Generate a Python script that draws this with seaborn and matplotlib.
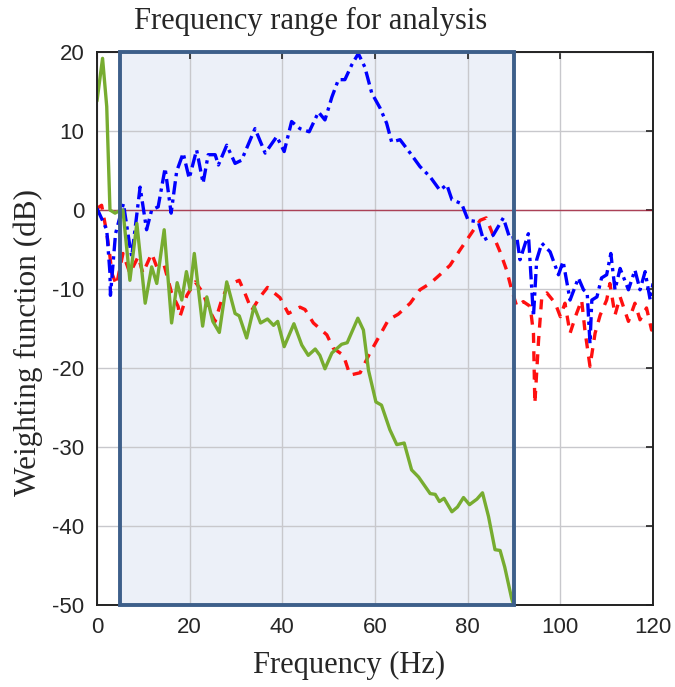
import matplotlib
matplotlib.use("Agg")
import matplotlib.pyplot as plt
import matplotlib.patches as mpatches
import pandas as pd
import seaborn as sb

# values (Hz, dB)
green_f = [0, 1.2, 2.1, 2.8, 3.9, 4.5, 5.6, 7.1, 8.6, 10.4, 11.8, 12.9, 14.5, 16.1, 17.3, 18.3,
           19.3, 20.1, 21.0, 22.8, 23.7, 25.0, 26.4, 28.0, 29.8, 30.7, 32.3, 33.9, 35.3, 36.8,
           38.1, 39.0, 40.4, 42.5, 44.2, 45.6, 47.1, 48.1, 49.2, 50.7, 52.8, 54.0, 56.3, 57.5,
           58.6, 60.2, 61.4, 63.2, 64.7, 66.3, 67.9, 69.4, 71.9, 73.0, 73.9, 74.9, 76.6, 77.8,
           79.1, 80.4, 82.0, 83.2, 84.5, 85.9, 87.0, 88.0, 89.5, 90.5]
green_db = [13.8, 19.2, 13.1, 0.0, -0.4, -0.2, 0.0, -8.9, -1.7, -11.8, -7.2, -9.3, -2.5, -14.3,
            -9.2, -11.4, -7.8, -10.1, -5.5, -14.7, -11.0, -14.1, -15.5, -9.1, -13.1, -13.4,
            -16.2, -12.2, -14.3, -13.8, -14.6, -14.1, -17.3, -14.4, -17.1, -18.4, -17.6, -18.4,
            -20.1, -18.1, -17.0, -16.8, -13.7, -15.2, -20.3, -24.3, -24.7, -27.8, -29.7, -29.5,
            -32.9, -33.8, -35.9, -36.0, -36.9, -36.5, -38.2, -37.6, -36.4, -37.3, -36.6, -35.8,
            -38.8, -43.0, -43.1, -45.2, -49.2, -51.0]

red_f = [0, 1.0, 2.1, 2.8, 3.2, 4.2, 5.6, 7.1, 8.9, 9.9, 11.8, 12.9, 14.5, 16.1, 17.5, 17.9,
         19.4, 21.2, 22.9, 24.0, 25.5, 26.9, 28.3, 30.7, 31.9, 33.4, 35.2, 36.8, 39.5, 41.3,
         43.8, 44.9, 46.7, 49.6, 51.0, 53.2, 54.6, 56.8, 58.9, 61.1, 62.9, 65.0, 67.6, 69.7,
         71.9, 74.0, 76.2, 78.3, 80.5, 82.7, 84.0, 85.5, 87.0, 88.4, 89.5, 90.6, 92.0, 93.5,
         94.2, 94.5, 95.3, 96.0, 97.1, 98.9, 100.0, 101.0, 102.1, 103.5, 104.6, 105.3, 106.4,
         107.5, 108.6, 110.0, 110.7, 111.8, 112.9, 114.7, 116.1, 117.2, 118.6, 119.7, 120.0]
red_db = [0.2, 0.6, -2.9, -5.9, -8.0, -9.5, -5.5, -8.0, -5.9, -8.0, -5.5, -7.2, -7.0, -10.5,
          -12.2, -13.5, -10.8, -9.1, -10.5, -12.4, -14.1, -11.4, -9.5, -8.9, -10.5, -12.7,
          -11.0, -9.8, -11.1, -13.1, -12.3, -12.6, -14.3, -15.8, -17.5, -18.4, -20.9, -20.6,
          -18.1, -15.8, -13.9, -13.2, -11.8, -10.1, -9.3, -8.2, -7.0, -5.1, -3.2, -1.3, -1.0,
          -3.2, -5.3, -7.6, -10.1, -12.2, -11.6, -12.2, -15.6, -24.5, -16.5, -11.0, -10.5,
          -11.8, -13.5, -11.8, -15.6, -13.1, -11.4, -15.2, -19.8, -15.6, -13.3, -11.4, -9.3,
          -13.3, -11.0, -14.1, -11.8, -13.9, -12.4, -15.2, -14.0]

blue_f = [0, 2.1, 2.8, 2.9, 4.0, 5.7, 7.1, 7.5, 9.3, 10.7, 11.8, 13.2, 14.7, 16.0, 17.2, 18.6,
          19.9, 21.5, 22.9, 24.0, 25.5, 26.2, 28.0, 29.8, 31.2, 34.1, 36.3, 38.8, 40.4, 42.0,
          43.8, 45.8, 47.8, 49.2, 50.7, 52.1, 53.5, 55.0, 56.4, 57.8, 59.3, 61.1, 62.5, 63.6,
          65.4, 67.6, 69.7, 71.9, 74.0, 75.5, 76.6, 78.7, 80.1, 82.3, 83.4, 85.5, 87.7, 89.1,
          90.6, 91.3, 93.1, 94.2, 94.9, 96.0, 97.8, 99.6, 100.6, 102.1, 103.9, 105.0, 105.8,
          106.4, 106.8, 107.9, 108.9, 110.0, 110.9, 111.8, 112.9, 114.7, 116.1, 117.2, 118.3,
          119.4, 120.0]
blue_db = [0.2, -2.5, -8.0, -10.8, -3.0, 0.8, -4.6, -5.9, 2.9, -2.5, 0.0, 0.4, 5.3, -0.4, 4.9,
           7.2, 4.0, 7.6, 3.4, 7.0, 7.0, 5.7, 8.2, 5.9, 6.3, 10.3, 7.2, 9.3, 7.4, 11.2, 10.3,
           9.9, 12.4, 11.4, 14.3, 16.5, 16.5, 18.4, 19.8, 18.1, 14.8, 12.9, 11.0, 8.6, 8.9, 7.2,
           5.5, 4.2, 2.5, 3.2, 1.3, 0.8, -1.3, -1.5, -3.8, -3.2, -1.0, -3.6, -3.4, -6.3, -3.0,
           -13.5, -6.3, -4.2, -5.3, -8.2, -6.5, -11.4, -8.6, -10.1, -10.5, -16.9, -11.4, -11.0,
           -8.6, -8.2, -5.5, -10.1, -7.4, -10.1, -7.6, -10.1, -7.8, -11.4, -9.3]

band = [5, 90]       # analysis range (Hz)
ylims = [-50, 20]

df_g = pd.DataFrame({"f": green_f, "db": green_db})
df_r = pd.DataFrame({"f": red_f, "db": red_db})
df_b = pd.DataFrame({"f": blue_f, "db": blue_db})

sb.set_style("white")
plt.rcParams["font.family"] = ["Liberation Serif", "DejaVu Serif"]
plt.rcParams["axes.unicode_minus"] = False

fig = plt.figure(figsize=(6.75, 6.87), dpi=100)
ax = fig.add_axes([0.1437, 0.1194, 0.8237, 0.8049])

# shaded analysis band
ax.add_patch(mpatches.Rectangle((band[0], ylims[0]), band[1] - band[0], ylims[1] - ylims[0],
                                facecolor="#ECF0F8", edgecolor="none", zorder=0.3))
ax.set_axisbelow(True)
ax.grid(True, color="#C8C8CC", linewidth=1.0)

ax.axhline(0, color="#A2142F", linewidth=1.0, alpha=0.75, zorder=1.5)

sb.lineplot(data=df_r, x="f", y="db", ax=ax, color="#FF1010", linewidth=2.4,
            linestyle=(0, (3, 2.5)), sort=False, zorder=2)
sb.lineplot(data=df_b, x="f", y="db", ax=ax, color="#0000FF", linewidth=2.4,
            linestyle=(0, (4, 1.5, 1, 1.5)), sort=False, zorder=2.1)
sb.lineplot(data=df_g, x="f", y="db", ax=ax, color="#77AC30", linewidth=2.4,
            sort=False, zorder=2.2)

ax.add_patch(mpatches.Rectangle((band[0], ylims[0]), band[1] - band[0], ylims[1] - ylims[0],
                                facecolor="none", edgecolor="#3D5F8A", linewidth=2.8,
                                zorder=4, clip_on=False))

ax.set_xlim(0, 120)
ax.set_ylim(ylims)
ax.set_xticks(range(0, 121, 20))
ax.set_yticks(range(-50, 21, 10))
ax.tick_params(direction="in", top=True, right=True, length=5, width=1.2,
               labelsize=16, color="#222222", labelcolor="#262626")
ax.tick_params(axis="x", pad=9)
ax.tick_params(axis="y", pad=9)
for lbl in ax.get_xticklabels() + ax.get_yticklabels():
    lbl.set_family(["Liberation Sans", "DejaVu Sans"])
for s in ax.spines.values():
    s.set_color("#222222")
    s.set_linewidth(1.4)

ax.set_xlabel("Frequency (Hz)", fontsize=22)
ax.set_ylabel("Weighting function (dB)", fontsize=22.5)
ax.xaxis.set_label_coords(0.453, -0.083)
ax.yaxis.set_label_coords(-0.097, 0.474)
ax.text(46, 23.8, "Frequency range for analysis", fontsize=22, ha="center", va="center",
        clip_on=False)

fig.savefig("out.png", dpi=100)
